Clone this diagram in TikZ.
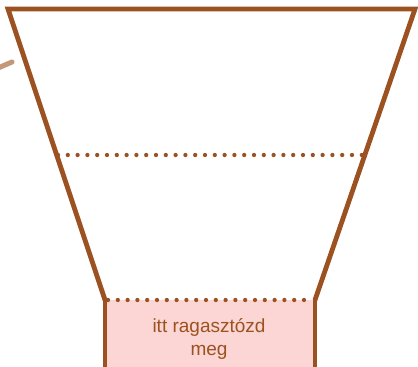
\documentclass[tikz,border=0pt]{standalone}
\usepackage{fontspec}
\setmainfont{Liberation Sans}
\definecolor{brn}{HTML}{9C5120}
\definecolor{pnk}{HTML}{FCD6D4}
\begin{document}
\begin{tikzpicture}[x=1pt,y=-1pt,
  edge/.style={draw=brn,line width=4.8pt,line join=miter},
  dotline/.style={draw=brn,line width=4.3pt,line cap=round,dash pattern=on 0pt off 9.8pt}]
\useasboundingbox (0,0) rectangle (418,367);
% pink glue area
\fill[pnk] (105,300) rectangle (315,370);
% funnel outline
\draw[edge] (105,300) -- (8,9) -- (415,9) -- (315,300);
% glue tab sides
\draw[edge] (105,298) -- (105,372);
\draw[edge] (315,298) -- (315,372);
% dotted folds
\draw[dotline] (58,155) -- (368,155);
\draw[dotline] (108,300) -- (312,300);
% partial mark at left edge
\draw[brn,line width=5pt,opacity=0.6,line cap=round] (-2,68) -- (12,62);
\node[text=brn,align=center,font=\fontsize{19}{23}\selectfont] (lbl) at (209,339) {itt ragasztózd\\meg};
\end{tikzpicture}
\end{document}
